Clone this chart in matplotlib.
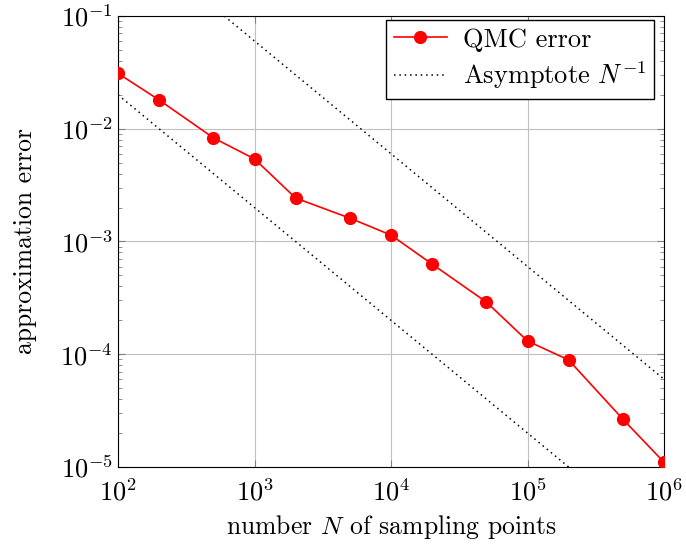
import numpy as np
import matplotlib
matplotlib.use("Agg")
import matplotlib.pyplot as plt
from matplotlib.ticker import NullLocator

# QMC error vs. number of sampling points
n_points = [1e2, 2e2, 5e2, 1e3, 2e3, 5e3, 1e4, 2e4, 5e4, 1e5, 2e5, 5e5, 1e6]
qmc_error = [3.1e-2, 1.8e-2, 8.3e-3, 5.4e-3, 2.43e-3, 1.61e-3, 1.14e-3,
             6.3e-4, 2.9e-4, 1.31e-4, 8.9e-5, 2.65e-5, 1.1e-5]

# asymptote constants C / N
asym_low = 2.0
asym_high = 60.0

plt.rcParams['font.family'] = 'serif'
plt.rcParams['font.serif'] = ['cmr10']
plt.rcParams['mathtext.fontset'] = 'cm'
plt.rcParams['axes.formatter.use_mathtext'] = True
plt.rcParams['axes.unicode_minus'] = True

fig = plt.figure(figsize=(6.86, 5.46), dpi=100)
ax = fig.add_axes([0.172, 0.1447, 0.796, 0.826])

nn = np.logspace(2, 6, 200)
ax.plot(n_points, qmc_error, color='red', marker='o', markersize=8.5,
        linewidth=1.2, label='QMC error', zorder=3)
ax.plot(nn, asym_low / nn, color='black', linestyle=(0, (1, 2.5)),
        linewidth=1.1, label='Asymptote $N^{-1}$')
ax.plot(nn, asym_high / nn, color='black', linestyle=(0, (1, 2.5)),
        linewidth=1.1)

ax.set_xscale('log')
ax.set_yscale('log')
ax.set_xlim(1e2, 1e6)
ax.set_ylim(1e-5, 1e-1)
ax.xaxis.set_minor_locator(NullLocator())
ax.grid(True, which='major', color='#c0c0c0', linewidth=0.8)
ax.tick_params(which='both', direction='in', top=True, right=True,
               labelsize=19, color='#808080')
ax.tick_params(which='major', length=5)
ax.tick_params(which='minor', length=3)
ax.tick_params(axis='x', pad=8)
for s in ax.spines.values():
    s.set_linewidth(0.8)

ax.set_xlabel('number $N$ of sampling points', fontsize=18.5, labelpad=6)
ax.set_ylabel('approximation error', fontsize=18.5, labelpad=17)

ax.legend(loc='upper right', bbox_to_anchor=(0.9817, 0.991),
          fontsize=19, fancybox=False, edgecolor='black', framealpha=1,
          handlelength=2.0, borderaxespad=0, borderpad=0.3,
          labelspacing=0.3, handletextpad=0.6)

fig.savefig('out.png', dpi=100)
